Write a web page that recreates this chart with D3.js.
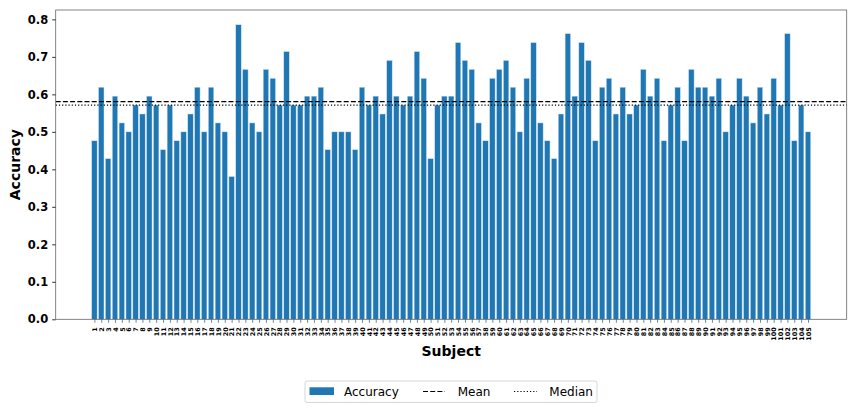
<!DOCTYPE html>
<html><head><meta charset="utf-8">
<script src="https://cdn.jsdelivr.net/npm/d3@7"></script>
<style>body{margin:0;background:#fff;} svg{display:block;font-family:"DejaVu Sans",sans-serif;}</style>
</head><body>
<svg id="chart" width="857" height="412"></svg>
<script>
// Data (accuracy per subject; values are multiples of 1/42)
const subjects = d3.range(1, 106).map(String);
const accuracyCounts = [
 20,26,18,25,22,21,24,23,25,24,
 19,24,20,21,23,26,21,26,22,21,
 16,33,28,22,21,28,27,24,30,24,
 24,25,25,26,19,21,21,21,19,26,
 24,25,23,29,25,24,25,30,27,18,
 24,25,25,31,29,28,22,20,27,28,
 29,26,21,27,31,22,20,18,23,32,
 25,31,29,20,26,27,23,26,23,24,
 28,25,27,20,24,26,20,28,26,26,
 25,27,21,24,27,25,22,26,23,27,
 24,32,20,24,21];
const accuracy = accuracyCounts.map(c => c / 42);
const yTicks = [0, 0.1, 0.2, 0.3, 0.4, 0.5, 0.6, 0.7, 0.8];
const legendLabels = ["Accuracy", "Mean", "Median"];

const meanVal = d3.mean(accuracy);
const medianVal = d3.median(accuracy);

const svg = d3.select("#chart");
const L = 55.7, R = 846.7, T = 10, B = 319.3;

const x = d3.scaleLinear().domain([1 - 0.4 - 5.24, 105 + 0.4 + 5.24]).range([L, R]);
const y = d3.scaleLinear().domain([0, 0.825]).range([B, T]);
const bw = x(0.8) - x(0);

// bars
svg.append("g").selectAll("rect").data(accuracy).join("rect")
  .attr("x", (d, i) => x(i + 1) - bw / 2)
  .attr("width", bw)
  .attr("y", d => y(d))
  .attr("height", d => B - y(d))
  .attr("fill", "#1f77b4")
  .attr("stroke", "#d6e4f0")
  .attr("stroke-width", 0.5);

// mean & median lines
svg.append("line").attr("x1", L).attr("x2", R).attr("y1", y(meanVal)).attr("y2", y(meanVal))
  .attr("stroke", "#000").attr("stroke-width", 1.2).attr("stroke-dasharray", "5,2.2");
svg.append("line").attr("x1", L).attr("x2", R).attr("y1", y(medianVal)).attr("y2", y(medianVal))
  .attr("stroke", "#000").attr("stroke-width", 1.2).attr("stroke-dasharray", "1.2,2");

// frame
svg.append("rect").attr("x", L).attr("y", T).attr("width", R - L).attr("height", B - T)
  .attr("fill", "none").attr("stroke", "#666").attr("stroke-width", 0.8);

// y axis
const yAxis = svg.append("g").attr("transform", `translate(${L},0)`)
  .call(d3.axisLeft(y).tickValues(yTicks).tickFormat(d3.format(".1f")).tickSize(3.5).tickPadding(4));
yAxis.select(".domain").remove();
yAxis.selectAll("text").attr("font-size", "11.5px").attr("font-weight", "bold")
  .attr("font-family", "DejaVu Sans").attr("fill", "#000");
yAxis.selectAll("line").attr("stroke", "#333");

// x axis
const xAxis = svg.append("g").attr("transform", `translate(0,${B})`)
  .call(d3.axisBottom(x).tickValues(d3.range(1, 106)).tickFormat((d) => subjects[d - 1]).tickSize(3.5).tickPadding(2));
xAxis.select(".domain").remove();
xAxis.selectAll("line").attr("stroke", "#333").attr("stroke-width", 0.6);
xAxis.selectAll("text")
  .attr("font-size", "6.4px").attr("font-weight", "bold").attr("font-family", "DejaVu Sans").attr("fill", "#000")
  .attr("transform", "rotate(-90)")
  .attr("text-anchor", "end")
  .attr("x", -8).attr("y", 0).attr("dy", "0.35em");

// axis labels
svg.append("text").attr("x", (L + R) / 2).attr("y", 356).attr("text-anchor", "middle")
  .attr("font-size", "14px").attr("font-weight", "bold").text("Subject");
svg.append("text").attr("transform", `translate(20,${(T + B) / 2}) rotate(-90)`).attr("text-anchor", "middle")
  .attr("font-size", "14px").attr("font-weight", "bold").text("Accuracy");

// legend
const lg = svg.append("g");
lg.append("rect").attr("x", 305).attr("y", 381).attr("width", 292).attr("height", 21.5)
  .attr("rx", 2).attr("fill", "#fff").attr("stroke", "#ccc").attr("stroke-width", 0.8);
lg.append("rect").attr("x", 309.5).attr("y", 387.3).attr("width", 24.5).attr("height", 7.7).attr("fill", "#1f77b4");
lg.append("line").attr("x1", 423).attr("x2", 445).attr("y1", 391.5).attr("y2", 391.5)
  .attr("stroke", "#000").attr("stroke-width", 1.2).attr("stroke-dasharray", "5,2.2");
lg.append("line").attr("x1", 514).attr("x2", 537).attr("y1", 391.5).attr("y2", 391.5)
  .attr("stroke", "#000").attr("stroke-width", 1.2).attr("stroke-dasharray", "1.2,2");
const lx = [344, 457.7, 549.3];
lg.selectAll("text.lt").data(legendLabels).join("text").attr("class", "lt")
  .attr("x", (d, i) => lx[i]).attr("y", 395.8).attr("font-size", "12px").text(d => d);
</script>
</body></html>
